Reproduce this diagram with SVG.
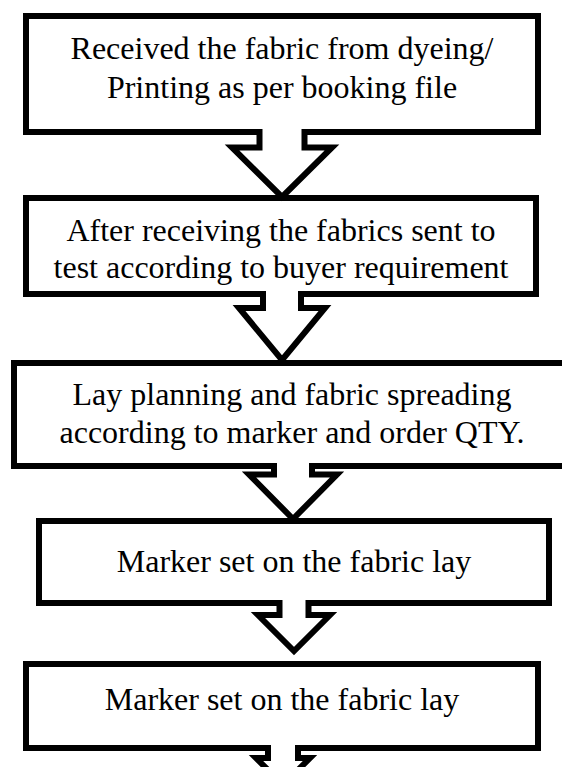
<svg xmlns="http://www.w3.org/2000/svg" width="562" height="767" viewBox="0 0 562 767">
  <style>
    .box { fill: #ffffff; stroke: #000000; stroke-width: 6; }
    .label { font-family: "Liberation Serif", "Times New Roman", serif; font-size: 32px; fill: #000000; text-anchor: middle; }
    .arrow-fill { fill: #ffffff; stroke: none; }
    .arrow-line { fill: none; stroke: #000000; stroke-width: 6; stroke-linejoin: miter; }
  </style>
  <rect width="562" height="767" fill="#ffffff"/>

  <g id="step1">
    <rect class="box" x="26" y="16" width="512" height="116"/>
    <text class="label" x="282" y="59">Received the fabric from dyeing/</text>
    <text class="label" x="282" y="98">Printing as per booking file</text>
  </g>

  <g id="step2">
    <rect class="box" x="26" y="198" width="510" height="96"/>
    <text class="label" x="281" y="241">After receiving the fabrics sent to</text>
    <text class="label" x="281" y="278">test according to buyer requirement</text>
  </g>

  <g id="step3">
    <rect class="box" x="14" y="363" width="560" height="103"/>
    <text class="label" x="292" y="405">Lay planning and fabric spreading</text>
    <text class="label" x="292" y="443">according to marker and order QTY.</text>
  </g>

  <g id="step4">
    <rect class="box" x="39" y="521" width="510" height="82"/>
    <text class="label" x="294" y="572">Marker set on the fabric lay</text>
  </g>

  <g id="step5">
    <rect class="box" x="26" y="664" width="512" height="84"/>
    <text class="label" x="282" y="710">Marker set on the fabric lay</text>
  </g>

  <g id="connectors">
    <!-- 1 to 2 -->
    <path class="arrow-fill" d="M259.5 128 V147.5 H232 L282 197 L332 147.5 H304.5 V128 Z"/>
    <polyline class="arrow-line" points="259.5,129 259.5,147.5 232,147.5 282,197 332,147.5 304.5,147.5 304.5,129"/>
    <!-- 2 to 3 -->
    <path class="arrow-fill" d="M263 290 V308 H239 L282 360 L325 308 H301 V290 Z"/>
    <polyline class="arrow-line" points="263,291 263,308 239,308 282,360 325,308 301,308 301,291"/>
    <!-- 3 to 4 -->
    <path class="arrow-fill" d="M274 462 V474.5 H249 L293 519 L337 474.5 H312 V462 Z"/>
    <polyline class="arrow-line" points="274,463 274,474.5 249,474.5 293,519 337,474.5 312,474.5 312,463"/>
    <!-- 4 to 5 -->
    <path class="arrow-fill" d="M279.5 599 V615 H258 L294 651 L330 615 H308.5 V599 Z"/>
    <polyline class="arrow-line" points="279.5,600 279.5,615 258,615 294,651 330,615 308.5,615 308.5,600"/>
    <!-- 5 onward -->
    <path class="arrow-fill" d="M268 744 V758 H256 L283 785 L310 758 H298 V744 Z"/>
    <polyline class="arrow-line" points="268,745 268,758 256,758 283,785 310,758 298,758 298,745"/>
  </g>
</svg>
